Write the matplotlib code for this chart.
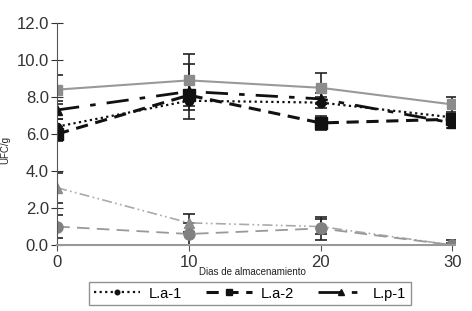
import matplotlib
matplotlib.use("Agg")
import matplotlib.pyplot as plt

plt.rcParams['font.family'] = ['Liberation Sans', 'DejaVu Sans']

days = [0, 10, 20, 30]
la1 = [6.4, 7.8, 7.7, 6.9]
la1_err = [0.4, 0.5, 0.3, 0.2]
la2 = [6.0, 8.1, 6.6, 6.8]
la2_err = [0.4, 0.3, 0.4, 0.2]
lp1 = [7.3, 8.3, 7.9, 6.6]
lp1_err = [0.5, 1.5, 0.3, 0.3]
grey_sq = [8.4, 8.9, 8.5, 7.6]
grey_sq_err = [0.8, 1.4, 0.8, 0.4]
grey_ci = [1.0, 0.6, 0.9, 0.0]
grey_ci_err = [0.6, 0.6, 0.6, 0.1]
grey_tr = [3.1, 1.2, 1.0, 0.0]
grey_tr_err = [0.8, 0.5, 0.4, 0.3]

fig = plt.figure(figsize=(4.72, 3.11), dpi=100)
ax = fig.add_axes([0.121, 0.212, 0.843, 0.714])

ecol = '#222222'
eb = dict(ecolor=ecol, elinewidth=1.2, capsize=4, capthick=1.2)

ax.errorbar(days, grey_sq, yerr=grey_sq_err, color='#999999', lw=1.5, ls='-',
            marker='s', ms=7, mfc='#8c8c8c', mec='#8c8c8c', **eb)
ax.errorbar(days, grey_tr, yerr=grey_tr_err, color='#aaaaaa', lw=1.2, ls=(0, (6, 2, 1, 2, 1, 2)),
            marker='^', ms=7, mfc='#8c8c8c', mec='#8c8c8c', **eb)
ax.errorbar(days, grey_ci, yerr=grey_ci_err, color='#999999', lw=1.3, ls=(0, (7, 4)),
            marker='o', ms=8, mfc='#808080', mec='#808080', **eb)

l1 = ax.errorbar(days, la1, yerr=la1_err, color='#111111', lw=1.6, ls=(0, (1, 1.5)),
                 marker='o', ms=6, mfc='#111111', mec='#111111', **eb)
l2 = ax.errorbar(days, la2, yerr=la2_err, color='#111111', lw=2.2, ls=(0, (4, 2.5)),
                 marker='s', ms=8, mfc='#111111', mec='#111111', **eb)
l3 = ax.errorbar(days, lp1, yerr=lp1_err, color='#111111', lw=2.0, ls=(0, (8, 4, 2, 4)),
                 marker='^', ms=7, mfc='#111111', mec='#111111', **eb)

ax.set_xlim(0, 30.2)
ax.set_ylim(0, 12)
ax.set_yticks([0, 2, 4, 6, 8, 10, 12])
ax.set_yticklabels(['0.0', '2.0', '4.0', '6.0', '8.0', '10.0', '12.0'])
ax.set_xticks(days)
ax.set_xticklabels([str(d) for d in days])
for s in ['top', 'right']:
    ax.spines[s].set_visible(False)
ax.spines['left'].set_color('#555555')
ax.spines['bottom'].set_color('#999999')
ax.spines['bottom'].set_linewidth(1.5)
ax.tick_params(axis='y', direction='inout', length=8, colors='#333333', labelsize=12, pad=2)
ax.tick_params(axis='x', direction='out', length=4, colors='#555555', labelsize=12, labelcolor='#333333')
ax.set_xlabel('Dias de almacenamiento', fontsize=7, color='#222222')
ax.set_ylabel('UFC/g', fontsize=7, color='#222222')
ax.yaxis.set_label_coords(-0.118, 0.43)
ax.xaxis.set_label_coords(0.49, -0.10)

leg = fig.legend([l1[0], l2[0], l3[0]], ['L.a-1', 'L.a-2', 'L.p-1'], ncol=3,
                 loc='center', bbox_to_anchor=(0.53, 0.056), fontsize=10.5,
                 frameon=True, fancybox=False, edgecolor='#777777', markerscale=0.55,
                 handlelength=3.2, columnspacing=1.6, borderpad=0.3, handletextpad=0.6)
leg.get_frame().set_linewidth(1.0)

fig.savefig('out.png', dpi=100)
